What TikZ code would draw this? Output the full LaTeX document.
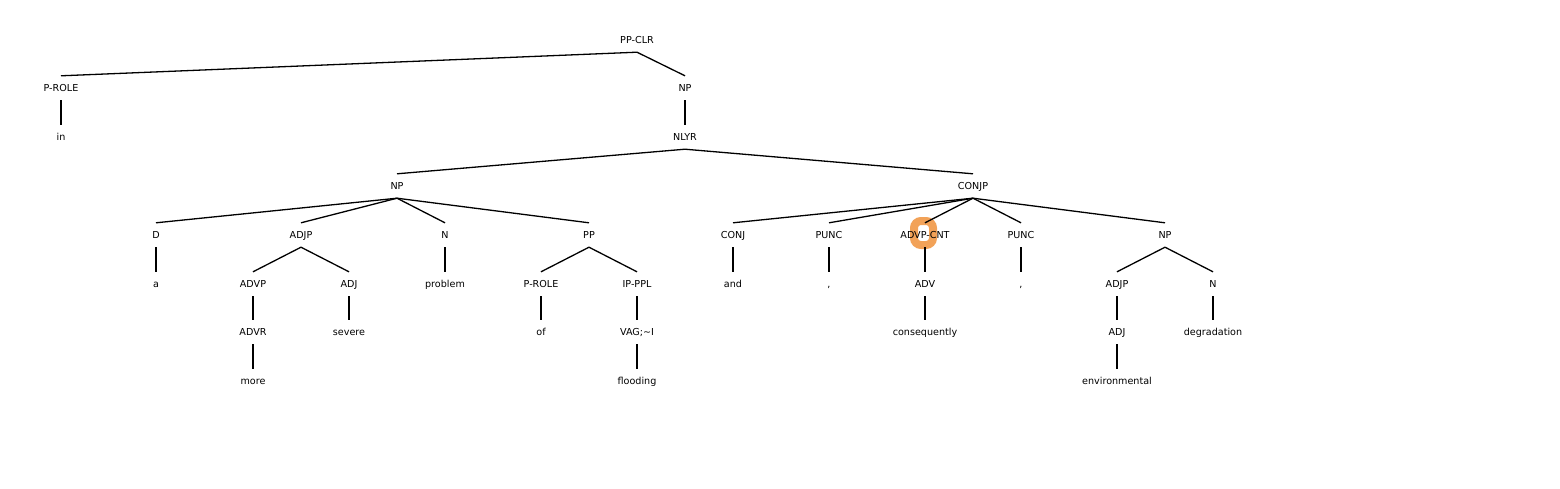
\documentclass[tikz,border=0pt]{standalone}
\usepackage{fontspec}
\setmainfont{DejaVu Sans}
\definecolor{hl}{RGB}{242,162,88}
\begin{document}
\begin{tikzpicture}[x=1pt,y=-1pt,
  lab/.style={font=\fontsize{9.6}{11}\selectfont, text height=8pt, text depth=1pt, inner xsep=1pt, inner ysep=7.5pt},
  edge/.style={line width=1.3pt}]
\useasboundingbox (0,0) rectangle (1560,488);
\draw[hl, line width=8pt, rounded corners=7pt] (914,221) rectangle (933,245);
% row 0
\node[lab] (ppclr) at (637,40) {PP-CLR};
% row 1
\node[lab] (prole1) at (61,88) {P-ROLE};
\node[lab] (np1) at (685,88) {NP};
% row 2
\node[lab] (in) at (61,137) {in};
\node[lab] (nlyr) at (685,137) {NLYR};
% row 3
\node[lab] (np2) at (397,186) {NP};
\node[lab] (conjp) at (973,186) {CONJP};
% row 4
\node[lab] (d) at (156,235) {D};
\node[lab] (adjp1) at (301,235) {ADJP};
\node[lab] (n1) at (445,235) {N};
\node[lab] (pp) at (589,235) {PP};
\node[lab] (conj) at (733,235) {CONJ};
\node[lab] (punc1) at (829,235) {PUNC};
\node[lab] (advpcnt) at (925,235) {ADVP-CNT};
\node[lab] (punc2) at (1021,235) {PUNC};
\node[lab] (np3) at (1165,235) {NP};
% row 5
\node[lab] (a) at (156,284) {a};
\node[lab] (advp) at (253,284) {ADVP};
\node[lab] (adj1) at (349,284) {ADJ};
\node[lab] (problem) at (445,284) {problem};
\node[lab] (prole2) at (541,284) {P-ROLE};
\node[lab] (ipppl) at (637,284) {IP-PPL};
\node[lab] (and) at (733,284) {and};
\node[lab] (comma1) at (829,284) {,};
\node[lab] (adv) at (925,284) {ADV};
\node[lab] (comma2) at (1021,284) {,};
\node[lab] (adjp2) at (1117,284) {ADJP};
\node[lab] (n2) at (1213,284) {N};
% row 6
\node[lab] (advr) at (253,332) {ADVR};
\node[lab] (severe) at (349,332) {severe};
\node[lab] (of) at (541,332) {of};
\node[lab] (vag) at (637,332) {VAG;\char"007E I};
\node[lab] (conseq) at (925,332) {consequently};
\node[lab] (adj2) at (1117,332) {ADJ};
\node[lab] (degr) at (1213,332) {degradation};
% row 7
\node[lab] (more) at (253,381) {more};
\node[lab] (flooding) at (637,381) {flooding};
\node[lab] (env) at (1117,381) {environmental};
% edges
\draw[edge] (ppclr.south) -- (prole1.north);
\draw[edge] (ppclr.south) -- (np1.north);
\draw[edge] (prole1.south) -- (in.north);
\draw[edge] (np1.south) -- (nlyr.north);
\draw[edge] (nlyr.south) -- (np2.north);
\draw[edge] (nlyr.south) -- (conjp.north);
\draw[edge] (np2.south) -- (d.north);
\draw[edge] (np2.south) -- (adjp1.north);
\draw[edge] (np2.south) -- (n1.north);
\draw[edge] (np2.south) -- (pp.north);
\draw[edge] (conjp.south) -- (conj.north);
\draw[edge] (conjp.south) -- (punc1.north);
\draw[edge] (conjp.south) -- (advpcnt.north);
\draw[edge] (conjp.south) -- (punc2.north);
\draw[edge] (conjp.south) -- (np3.north);
\draw[edge] (d.south) -- (a.north);
\draw[edge] (adjp1.south) -- (advp.north);
\draw[edge] (adjp1.south) -- (adj1.north);
\draw[edge] (n1.south) -- (problem.north);
\draw[edge] (pp.south) -- (prole2.north);
\draw[edge] (pp.south) -- (ipppl.north);
\draw[edge] (conj.south) -- (and.north);
\draw[edge] (punc1.south) -- (comma1.north);
\draw[edge] (advpcnt.south) -- (adv.north);
\draw[edge] (punc2.south) -- (comma2.north);
\draw[edge] (np3.south) -- (adjp2.north);
\draw[edge] (np3.south) -- (n2.north);
\draw[edge] (advp.south) -- (advr.north);
\draw[edge] (adj1.south) -- (severe.north);
\draw[edge] (prole2.south) -- (of.north);
\draw[edge] (ipppl.south) -- (vag.north);
\draw[edge] (adv.south) -- (conseq.north);
\draw[edge] (adjp2.south) -- (adj2.north);
\draw[edge] (n2.south) -- (degr.north);
\draw[edge] (advr.south) -- (more.north);
\draw[edge] (vag.south) -- (flooding.north);
\draw[edge] (adj2.south) -- (env.north);
\end{tikzpicture}
\end{document}
